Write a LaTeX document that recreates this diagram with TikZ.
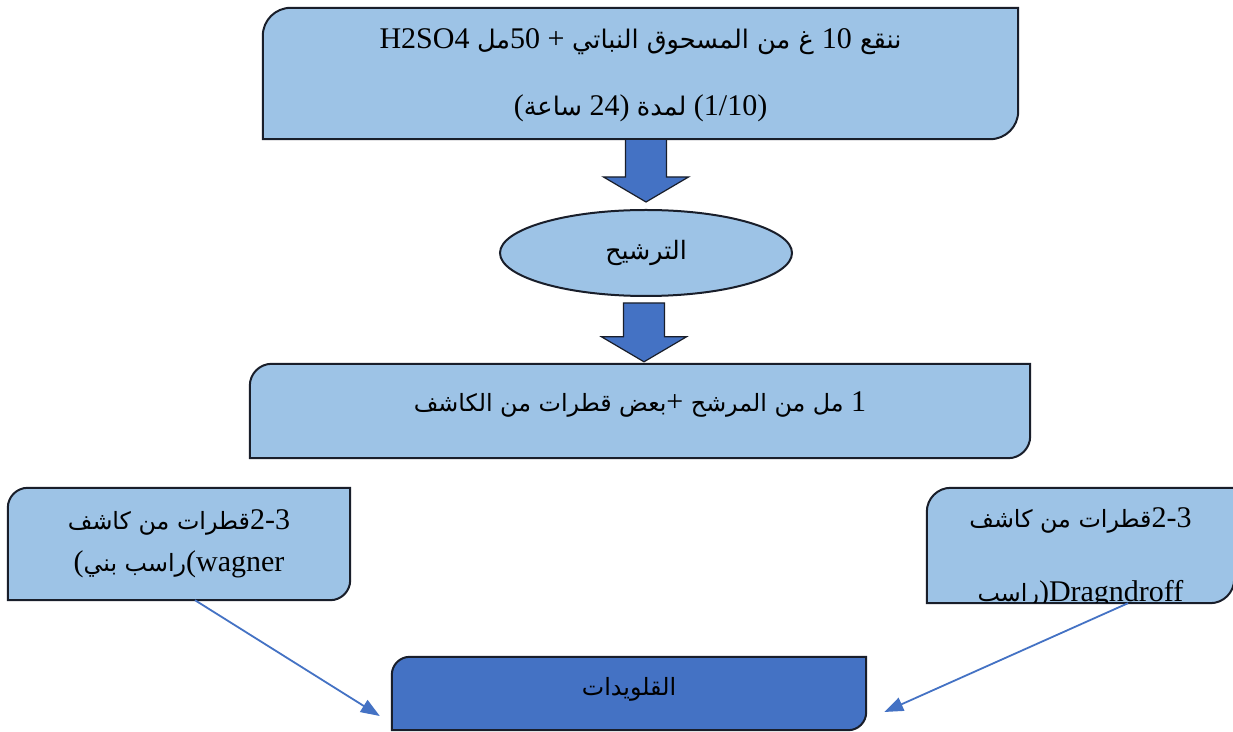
\documentclass[tikz,border=0pt]{standalone}
\usepackage{fontspec}
\setmainfont{Liberation Serif}
\newfontfamily\arabicfont[Script=Arabic]{DejaVu Sans}
\TeXXeTstate=1
\usepackage{tikz}
\usetikzlibrary{shapes.geometric,arrows.meta,positioning,calc}
\usepackage{xcolor}
\definecolor{BoxBlue}{RGB}{157,195,230}
\definecolor{DeepBlue}{RGB}{68,114,196}
\definecolor{EdgeDark}{RGB}{25,30,42}

% arabic run, right to left (optional size)
\newcommand\arw[2][23.8]{{\arabicfont\fontsize{#1}{#1}\selectfont\beginR #2\endR}}
\newcommand\latn[1]{\beginL{\rmfamily\fontsize{30}{36}\selectfont #1}\endL}
% box with rounded top-left and bottom-right corners
\newcommand\diagframe[3]{%
  \draw[frame,fill=#3] (#1.south west) -- ([yshift=-#2]#1.north west)
    arc[start angle=180,end angle=90,radius=#2] -- (#1.north east)
    -- ([yshift=#2]#1.south east) arc[start angle=0,end angle=-90,radius=#2] -- cycle;}
% thick block arrow pointing down
\newcommand\blockdown[2]{%
  \draw[blockarr] ($(#1)+(-20.5,0)$) -- ($(#2)+(-20.5,25)$) -- ($(#2)+(-42.5,25)$)
    -- (#2) -- ($(#2)+(42.5,25)$) -- ($(#2)+(20.5,25)$) -- ($(#1)+(20.5,0)$) -- cycle;}

\begin{document}
\begin{tikzpicture}[x=1pt,y=1pt,
  shell/.style={draw=none,inner sep=0pt},
  frame/.style={draw=EdgeDark,line width=2pt},
  txt/.style={inner sep=0pt,font=\fontsize{30}{36}\selectfont},
  blockarr/.style={draw=EdgeDark,line width=1.2pt,fill=DeepBlue},
  link/.style={-{Triangle[length=19pt,width=14pt]},draw=DeepBlue,line width=1.8pt}
]
\useasboundingbox[fill=white] (0,0) rectangle (1233,731);

\node[shell,minimum width=755pt,minimum height=131pt] (soak) at (640.5,657.5) {};
\node[ellipse,draw=EdgeDark,line width=2pt,fill=BoxBlue,minimum width=292pt,
      minimum height=86pt,inner sep=0pt] (filt) at (646,478) {\arw[25.3]{الترشيح}};
\node[shell,minimum width=780pt,minimum height=94pt] (mix) at (640,320) {};
\node[shell,minimum width=342pt,minimum height=112pt] (wag) at (179,187) {};
\node[shell,minimum width=307pt,minimum height=115pt] (drag) at (1080.5,185.5) {};
\node[shell,minimum width=474pt,minimum height=73pt] (alk) at (629,37.5) {};

\diagframe{soak}{28pt}{BoxBlue}
\diagframe{mix}{22pt}{BoxBlue}
\diagframe{wag}{20pt}{BoxBlue}
\diagframe{drag}{24pt}{BoxBlue}
\diagframe{alk}{18pt}{DeepBlue}

\node[txt,anchor=base] (soakA) at ([yshift=-41pt]soak.north)
  {H2SO4 \arw[25.6]{مل}50 + \arw[25.6]{ننقع \latn{10} غ من المسحوق النباتي}};
\node[txt,anchor=base] (soakB) at ([yshift=-108pt]soak.north)
  {(\arw[25.6]{ساعة} 24) \arw[25.6]{لمدة} (1/10)};
\node[txt,anchor=base] (mixA) at ([yshift=-48pt]mix.north)
  {\arw{بعض قطرات من الكاشف}+ \arw{مل من المرشح} 1};
\node[txt,anchor=base] (wagA) at ([yshift=-42pt]wag.north) {\arw{قطرات من كاشف}2-3};
\node[txt,anchor=base] (wagB) at ([yshift=-84pt]wag.north) {(\arw{راسب بني}(wagner};
\node[txt,anchor=base] (dragA) at ([yshift=-40pt]drag.north) {\arw{قطرات من كاشف}2-3};
\begin{scope}
  \clip ([yshift=1pt]drag.south west) rectangle (drag.north east);
  \node[txt,anchor=base] (dragB) at ([yshift=-114pt]drag.north) {\arw{راسب})Dragndroff};
\end{scope}
\node[txt,anchor=base] (alkA) at ([yshift=-39pt]alk.north) {\arw{القلويدات}};

\blockdown{[xshift=5.5pt]soak.south}{[yshift=7pt]filt.north}
\blockdown{[xshift=-2pt,yshift=-6pt]filt.south}{[xshift=4pt,yshift=2pt]mix.north}

\coordinate (alkL) at ([xshift=-12pt,yshift=-22.5pt]alk.west);
\coordinate (alkR) at ([xshift=18pt,yshift=-18.5pt]alk.east);
\draw[link] ([xshift=16pt]wag.south) -- (alkL);
\draw[link] ([xshift=47.5pt]drag.south) -- (alkR);
\end{tikzpicture}
\end{document}
